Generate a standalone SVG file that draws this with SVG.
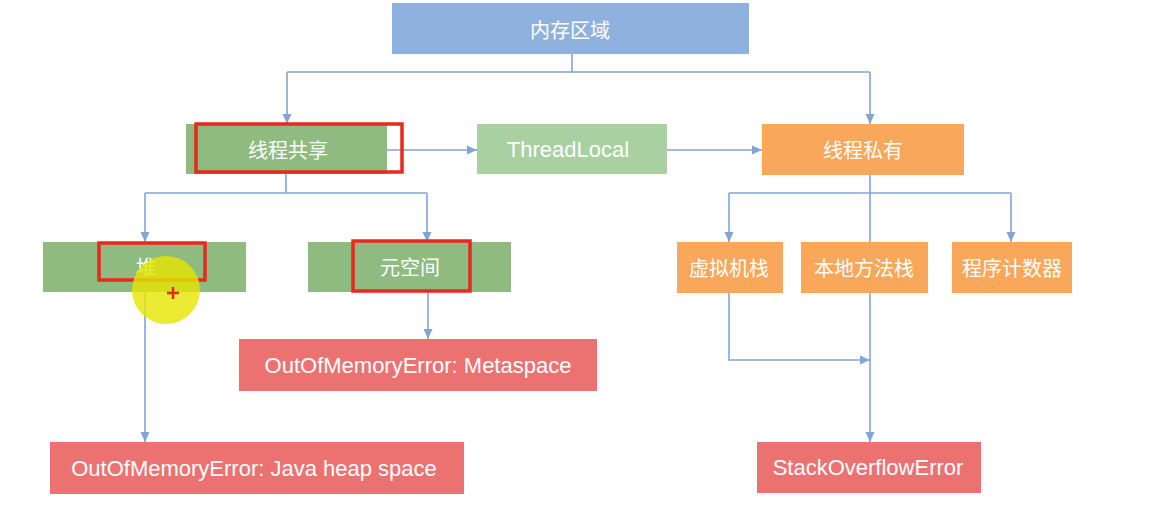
<svg xmlns="http://www.w3.org/2000/svg" width="1149" height="521" viewBox="0 0 1149 521">
<style>
.blue{fill:#8fb1de}
.green{fill:#8fbb80}
.lgreen{fill:#a9d0a1}
.orange{fill:#f9a75b}
.red{fill:#ec7272}
.hl{fill:none;stroke:#e8291d;stroke-width:3.5}
.zh{font-family:"Noto Sans CJK SC",sans-serif;font-size:20px;fill:#fff;text-anchor:middle;dominant-baseline:central}
.en{font-family:"Liberation Sans",Arial,sans-serif;font-size:22px;fill:#fff;text-anchor:middle;dominant-baseline:central}
.ln{fill:none;stroke:#82a6d4;stroke-width:1.6}
</style>
<defs>
<marker id="arr" markerUnits="userSpaceOnUse" markerWidth="12" markerHeight="12" viewBox="0 0 12 12" refX="11" refY="6" orient="auto">
<path d="M1,1.5 L11,6 L1,10.5 Z" fill="#82a6d4"/>
</marker>
</defs>
<rect width="1149" height="521" fill="#fff"/>
<g id="connectors">
<path class="ln" d="M572,54 V72 M287,72 H870"/>
<path class="ln" d="M287,72 V124" marker-end="url(#arr)"/>
<path class="ln" d="M870,72 V124" marker-end="url(#arr)"/>
<path class="ln" d="M387,150 H477" marker-end="url(#arr)"/>
<path class="ln" d="M667,150 H762" marker-end="url(#arr)"/>
<path class="ln" d="M286,174 V193 M145,193 H427"/>
<path class="ln" d="M145,193 V242" marker-end="url(#arr)"/>
<path class="ln" d="M427,193 V242" marker-end="url(#arr)"/>
<path class="ln" d="M428,292 V339" marker-end="url(#arr)"/>
<path class="ln" d="M145,292 V442" marker-end="url(#arr)"/>
<path class="ln" d="M870,175 V242 M729,193 H1011"/>
<path class="ln" d="M729,193 V242" marker-end="url(#arr)"/>
<path class="ln" d="M1011,193 V242" marker-end="url(#arr)"/>
<path class="ln" d="M729,293 V360 H870" marker-end="url(#arr)"/>
<path class="ln" d="M870,293 V442" marker-end="url(#arr)"/>
</g>
<g id="memory"><rect class="blue" x="392" y="3" width="357" height="51"/><text class="zh" x="570" y="29">内存区域</text></g>
<g id="shared"><rect class="green" x="186" y="124" width="201" height="50"/><text class="zh" x="288" y="149">线程共享</text><rect class="hl" x="196" y="124" width="206" height="48"/></g>
<g id="threadlocal"><rect class="lgreen" x="477" y="124" width="190" height="50"/><text class="en" x="568" y="149">ThreadLocal</text></g>
<g id="private"><rect class="orange" x="762" y="124" width="202" height="51"/><text class="zh" x="863" y="149">线程私有</text></g>
<g id="heap"><rect class="green" x="43" y="242" width="203" height="50"/><text class="zh" x="146" y="266">堆</text><rect class="hl" x="99" y="243" width="106" height="37"/></g>
<g id="metaspace"><rect class="green" x="308" y="242" width="203" height="50"/><text class="zh" x="410" y="266">元空间</text><rect class="hl" x="353" y="241" width="117" height="50"/></g>
<g id="vmstack"><rect class="orange" x="677" y="242" width="106" height="51"/><text class="zh" x="729" y="267">虚拟机栈</text></g>
<g id="nativestack"><rect class="orange" x="801" y="242" width="127" height="51"/><text class="zh" x="864" y="267">本地方法栈</text></g>
<g id="pc"><rect class="orange" x="952" y="242" width="120" height="51"/><text class="zh" x="1012" y="267">程序计数器</text></g>
<g id="oom-meta"><rect class="red" x="239" y="339" width="358" height="52"/><text class="en" x="418" y="365">OutOfMemoryError: Metaspace</text></g>
<g id="oom-heap"><rect class="red" x="50" y="442" width="414" height="52"/><text class="en" x="254" y="468">OutOfMemoryError: Java heap space</text></g>
<g id="soe"><rect class="red" x="757" y="442" width="224" height="51"/><text class="en" x="868" y="467">StackOverflowError</text></g>
<g id="cursor">
<circle cx="166" cy="290" r="34" fill="#e6e600" opacity="0.8"/>
<path d="M167,293 H179 M173,287 V299" stroke="#e8291d" stroke-width="2.5"/>
</g>
</svg>
